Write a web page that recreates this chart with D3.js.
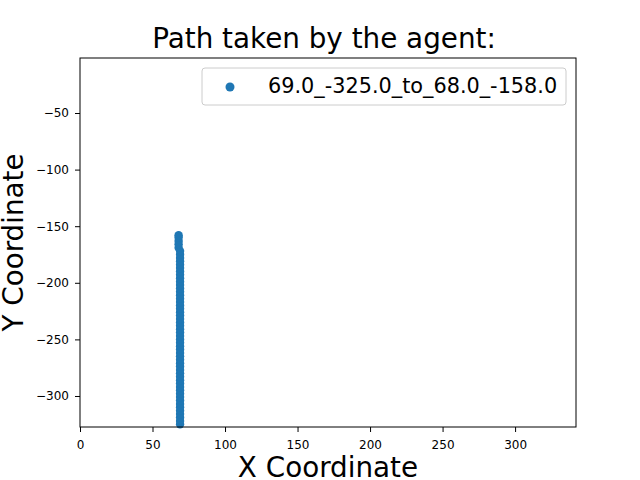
<!DOCTYPE html>
<html lang="en">
  <head>
    <meta charset="UTF-8" />
    <title>Path taken by the agent</title>
    <style>
      body { margin: 0; background: #fff; }
      svg { font-family: "DejaVu Sans", sans-serif; }
      .tick line { stroke: #000; }
    </style>
  </head>
  <body>
    <svg width="640" height="480"></svg>
    <script src="https://cdn.jsdelivr.net/npm/d3@7"></script>
    <script>
      // agent path (x, y)
      const pathX = [
        69, 69, 69, 69, 69, 69, 69, 69, 69, 69, 69, 69, 69,
        69, 69, 69, 69, 69, 69, 69, 69, 69, 69, 69, 69, 69,
        69, 69, 69, 69, 69, 69, 69, 69, 69, 69, 69, 69, 69,
        69, 69, 69, 69, 69, 69, 69, 69, 69, 69, 69, 69, 69,
        68, 68, 68, 68, 68
      ];
      const pathY = [
        -325, -322, -319, -316, -313, -310, -307, -304, -301, -298, -295, -292, -289,
        -286, -283, -280, -277, -274, -271, -268, -265, -262, -259, -256, -253, -250,
        -247, -244, -241, -238, -235, -232, -229, -226, -223, -220, -217, -214, -211,
        -208, -205, -202, -199, -196, -193, -190, -187, -184, -181, -178, -175, -172,
        -169, -166, -163, -160, -158
      ];
      const seriesName = '69.0_-325.0_to_68.0_-158.0';
      const xTicks = [0, 50, 100, 150, 200, 250, 300];
      const yTicks = [-50, -100, -150, -200, -250, -300];

      const svg = d3.select('svg');
      const m = { left: 80, right: 576, top: 58, bottom: 427 };

      const x = d3.scaleLinear().domain([0, 342]).range([m.left, m.right]);
      const y = d3.scaleLinear().domain([-327.4, -1.4]).range([m.bottom, m.top]);

      const minus = (v) => String(v).replace('-', '\u2212');

      svg.append('g')
        .attr('transform', `translate(0,${m.bottom})`)
        .call(d3.axisBottom(x).tickValues(xTicks).tickSize(5).tickPadding(8).tickFormat((d) => d))
        .attr('font-size', 12).attr('font-family', 'DejaVu Sans')
        .call((g) => g.select('.domain').remove());

      svg.append('g')
        .attr('transform', `translate(${m.left},0)`)
        .call(d3.axisLeft(y).tickValues(yTicks).tickSize(5).tickPadding(6).tickFormat(minus))
        .attr('font-size', 12).attr('font-family', 'DejaVu Sans')
        .call((g) => g.select('.domain').remove());

      svg.append('g')
        .selectAll('circle')
        .data(pathX.map((d, i) => [d, pathY[i]]))
        .join('circle')
        .attr('cx', (d) => x(d[0]))
        .attr('cy', (d) => y(d[1]))
        .attr('r', 4.2)
        .attr('fill', '#1f77b4');

      // frame
      svg.append('rect')
        .attr('x', m.left).attr('y', m.top)
        .attr('width', m.right - m.left).attr('height', m.bottom - m.top)
        .attr('fill', 'none').attr('stroke', '#000').attr('stroke-width', 1);

      svg.append('text')
        .attr('x', 324).attr('y', 48)
        .attr('text-anchor', 'middle').attr('font-size', 27.8)
        .text('Path taken by the agent:');

      svg.append('text')
        .attr('x', (m.left + m.right) / 2).attr('y', 477)
        .attr('text-anchor', 'middle').attr('font-size', 27.8)
        .text('X Coordinate');

      svg.append('text')
        .attr('transform', `translate(23,${(m.top + m.bottom) / 2}) rotate(-90)`)
        .attr('text-anchor', 'middle').attr('font-size', 27.8)
        .text('Y Coordinate');

      // legend
      const lg = svg.append('g');
      lg.append('rect')
        .attr('x', 202).attr('y', 68).attr('width', 364).attr('height', 37).attr('rx', 3)
        .attr('fill', '#fff').attr('fill-opacity', 0.8)
        .attr('stroke', '#ccc');
      lg.append('circle').attr('cx', 230).attr('cy', 87).attr('r', 4.5).attr('fill', '#1f77b4');
      lg.append('text')
        .attr('x', 268).attr('y', 93).attr('font-size', 20.8)
        .text(seriesName);
    </script>
  </body>
</html>
